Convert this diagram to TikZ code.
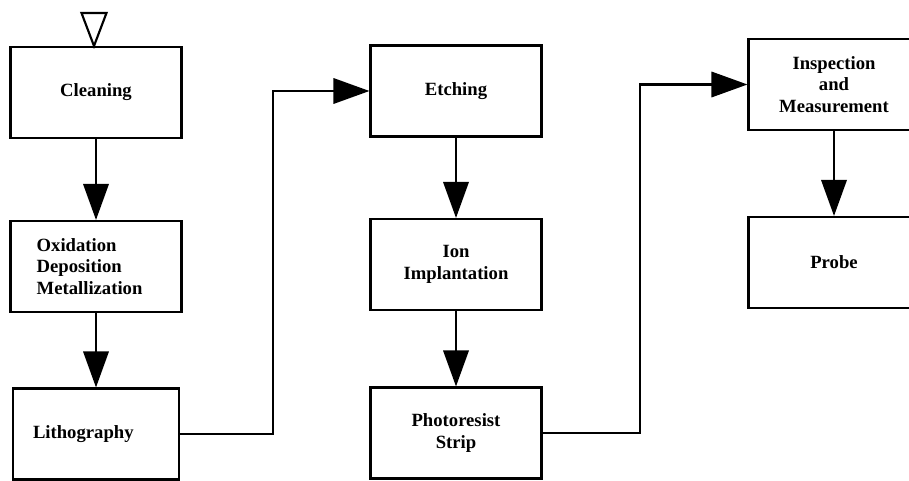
\documentclass[tikz,border=0pt]{standalone}
\usepackage{fontspec}
\setmainfont{Liberation Serif}
\usetikzlibrary{arrows.meta, calc}
\tikzset{
  block/.style={rectangle, draw, line width=1.8pt, minimum width=128pt,
    minimum height=68pt, inner sep=0pt, align=center,
    font=\fontsize{14}{16}\selectfont\bfseries},
  leftblock/.style={block, align=left, inner xsep=19.5pt, text width=89pt},
  arrow/.style={-{Triangle[length=27pt, width=19pt]}, line width=1.8pt},
  startmark/.style={line width=1.6pt, line join=miter},
}
\begin{document}
\begin{tikzpicture}[x=0.75pt, y=-0.75pt]
  \useasboundingbox (0,0) rectangle (909,481);
  \clip (0,0) rectangle (909,481);
  % first column
  \node[block] (cleaning) at (96,92.5) {Cleaning};
  \node[leftblock] (oxid) at (96,266.5) {Oxidation\\Deposition\\Metallization};
  \node[leftblock, inner xsep=15pt, text width=94.5pt, minimum width=124.5pt]
    (litho) at (96,434) {Lithography};
  % second column
  \node[block] (etch) at (456,91) {Etching};
  \node[block] (ion) at (456,264.5) {Ion\\Implantation};
  \node[block] (photo) at (456,433) {Photoresist\\Strip};
  % third column
  \node[block] (insp) at (834,84.5) {Inspection\\and\\Measurement};
  \node[block] (probe) at (834,262.5) {Probe};
  \coordinate (jog1) at (273,0);
  \coordinate (jog2) at (640,0);
  % start mark
  \draw[startmark] ($(cleaning.north)+(-2,0)$) -- ++(-12.5,-33) -- ++(25,0) -- cycle;
  \draw[arrow] (cleaning) -- (oxid);
  \draw[arrow] (oxid) -- (litho);
  \draw[arrow] (litho.east) -- (litho.east -| jog1) -- (etch.west -| jog1) -- (etch.west);
  \draw[arrow] (etch) -- (ion);
  \draw[arrow] (ion) -- (photo);
  \draw[arrow] (photo.east) -- (photo.east -| jog2) -- (insp.west -| jog2) -- (insp.west);
  \draw[arrow] (insp) -- (probe);
\end{tikzpicture}
\end{document}
